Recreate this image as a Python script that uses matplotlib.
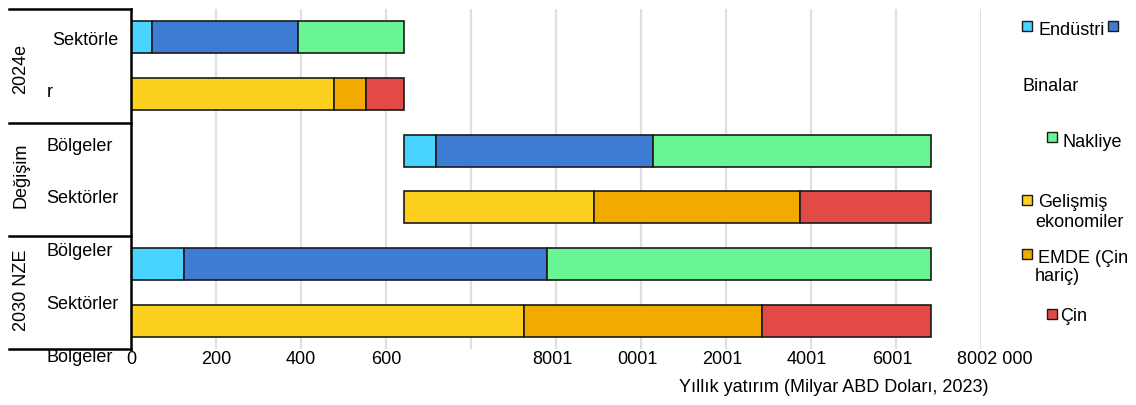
import matplotlib
matplotlib.use("Agg")
import matplotlib.pyplot as plt
from matplotlib.lines import Line2D
from matplotlib.patches import Rectangle
from matplotlib.transforms import ScaledTranslation

plt.rcParams['font.family'] = ['Liberation Sans', 'DejaVu Sans']

# Annual investment, billion USD (2023)
sektor_adlari = ["Endüstri", "Binalar", "Nakliye"]
bolge_adlari = ["Gelişmiş ekonomiler", "EMDE (Çin hariç)", "Çin"]

sektor_2024 = [49, 344, 249]
bolge_2024 = [478, 75, 89]
sektor_degisim = [76, 510, 655]
bolge_degisim = [447, 485, 309]
sektor_2030 = [125, 854, 904]
bolge_2030 = [925, 560, 398]

sektor_renk = ["#48D4FF", "#3E7BD3", "#69F593"]
bolge_renk = ["#FDD01F", "#F2AA00", "#E24A46"]

x_ticks = [0, 200, 400, 600, 800, 1000, 1200, 1400, 1600, 1800, 2000]
x_tick_labels = ["0", "200", "400", "600", "", "8001", "0001", "2001",
                 "4001", "6001", "8002 000"]

W, H = 1136, 406
FS = 13
fig = plt.figure(figsize=(W / 100, H / 100), dpi=100)


def fx(px):
    return px / W


def fy(py):
    return 1 - py / H


ax = fig.add_axes([fx(131), fy(350), fx(981) - fx(131), fy(10) - fy(350)])

rows = [
    (0, sektor_2024, sektor_renk, 0),
    (1, bolge_2024, bolge_renk, 0),
    (2, sektor_degisim, sektor_renk, sum(sektor_2024)),
    (3, bolge_degisim, bolge_renk, sum(bolge_2024)),
    (4, sektor_2030, sektor_renk, 0),
    (5, bolge_2030, bolge_renk, 0),
]
for y, vals, colors, start in rows:
    left = start
    for v, c in zip(vals, colors):
        ax.barh(y, v, left=left, height=0.565, color=c,
                edgecolor="#1a1a1a", linewidth=1.2, zorder=3)
        left += v

ax.set_xlim(0, 2000)
ax.set_ylim(5.5, -0.5)
ax.set_yticks([])
ax.set_xticks(x_ticks)
ax.set_xticklabels(x_tick_labels, fontsize=FS)
ax.tick_params(axis="x", length=0, pad=1)
ax.grid(axis="x", color="#e0e0e0", linewidth=1.6, zorder=0)
ax.set_axisbelow(True)
for s in ["top", "right", "bottom"]:
    ax.spines[s].set_visible(False)
ax.spines["left"].set_color("black")
ax.spines["left"].set_linewidth(1.8)
ax.spines["left"].set_zorder(5)

# nudge the wrapped thousand labels
for lab, tv in zip(ax.get_xticklabels(), x_ticks):
    if tv == 2000:
        dx = 14
    elif tv > 800:
        dx = -4
    else:
        dx = 0
    lab.set_transform(lab.get_transform() + ScaledTranslation(dx / 100, 0, fig.dpi_scale_trans))

fig.text(fx(834), fy(392), "Yıllık yatırım (Milyar ABD Doları, 2023)",
         ha="center", va="baseline", fontsize=FS)

# group labels
for txt, yc in [("2024e", 69), ("Değişim", 175), ("2030 NZE", 290)]:
    fig.text(fx(21), fy(yc), txt, rotation=90, ha="center", va="center", fontsize=FS)

for txt, x, yb in [("Sektörle", 52, 45), ("r", 47, 97), ("Bölgeler", 46, 151),
                   ("Sektörler", 46, 203), ("Bölgeler", 46, 256),
                   ("Sektörler", 46, 309), ("Bölgeler", 46, 362)]:
    fig.text(fx(x), fy(yb), txt, ha="left", va="baseline", fontsize=FS, zorder=1)

for yl in [10, 124, 237, 350]:
    fig.add_artist(Line2D([fx(9), fx(131)], [fy(yl), fy(yl)], color="black",
                          linewidth=1.8, zorder=10))


def square(x, ytop, color):
    fig.add_artist(Rectangle((fx(x), fy(ytop + 10)), fx(10), 10 / H,
                             facecolor=color, edgecolor="#1a1a1a",
                             linewidth=1.0, transform=fig.transFigure))


square(1022, 22, sektor_renk[0])
fig.text(fx(1038), fy(35), "Endüstri", ha="left", va="baseline", fontsize=FS)
square(1108, 22, sektor_renk[1])
fig.text(fx(1022), fy(91), "Binalar", ha="left", va="baseline", fontsize=FS)
square(1047, 133, sektor_renk[2])
fig.text(fx(1062), fy(147), "Nakliye", ha="left", va="baseline", fontsize=FS)
square(1022, 196, bolge_renk[0])
fig.text(fx(1038), fy(207), "Gelişmiş", ha="left", va="baseline", fontsize=FS)
fig.text(fx(1035), fy(227), "ekonomiler", ha="left", va="baseline", fontsize=FS)
square(1022, 250, bolge_renk[1])
fig.text(fx(1038), fy(263), "EMDE (Çin", ha="left", va="baseline", fontsize=FS)
fig.text(fx(1035), fy(281), "hariç)", ha="left", va="baseline", fontsize=FS)
square(1047, 310, bolge_renk[2])
fig.text(fx(1060), fy(321), "Çin", ha="left", va="baseline", fontsize=FS)

fig.savefig("out.png", dpi=100)
